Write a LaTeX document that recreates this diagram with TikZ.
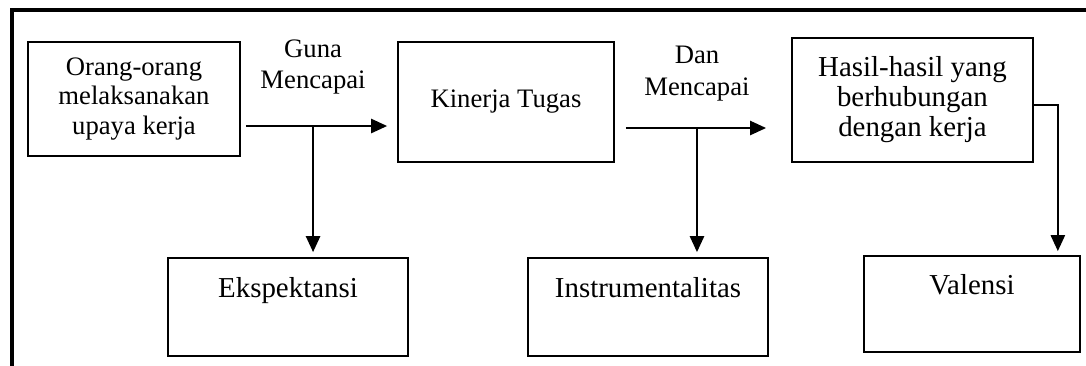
\documentclass[tikz,border=0pt]{standalone}
\usepackage{fontspec}
\setmainfont{Liberation Serif}
\usetikzlibrary{arrows.meta,positioning}

\begin{document}
\begin{tikzpicture}[
    auto,
    node distance=92pt,
    >={Triangle[length=7.2pt,width=6.3pt]},
    font=\fontsize{12}{13.2}\selectfont,
    box/.style={
		rectangle,
		draw=black,
		line width=0.75pt,
		inner sep=0pt,
		text centered,
		align=center
	},
	bigtext/.style={
		font=\fontsize{13}{13.5}\selectfont
	},
	flow/.style={
		draw,
		->,
		line width=1.1pt
	},
	lbl/.style={
		inner sep=0pt,
		align=center,
		font=\fontsize{12}{14.2}\selectfont
	}
  ]
  % page size and the outer frame
  \useasboundingbox (0,0) rectangle (488.7pt,-164.25pt);
  \begin{scope}
    \clip (0,0) rectangle (488.7pt,-164.25pt);
    \draw [line width=1.8pt] (5.25pt,-4.6pt) rectangle (540pt,-220pt);
  \end{scope}

  % We start by placing the blocks
  \node [box, minimum width=95.4pt, minimum height=51.3pt] at (60.3pt,-44.55pt) (upaya)
  {Orang-orang\\melaksanakan\\upaya kerja};

  \node [box, minimum width=97.2pt, minimum height=54pt, right of=upaya, node distance=167.4pt, yshift=-1.35pt] (kinerja)
  {Kinerja Tugas};

  \node [box, bigtext, minimum width=108.45pt, minimum height=55.8pt, right of=kinerja, node distance=182.9pt, yshift=0.9pt] (hasil)
  {Hasil-hasil yang\\berhubungan\\dengan kerja};

  \node [box, bigtext, minimum width=108pt, minimum height=44.1pt, below of=upaya, node distance=93.6pt, xshift=69.3pt] (ekspektansi)
  {Ekspektansi\\\strut};

  \node [box, bigtext, minimum width=108pt, minimum height=44.1pt, below of=kinerja, node distance=92.25pt, xshift=63.9pt] (instrumentalitas)
  {Instrumentalitas\\\strut};

  \node [box, bigtext, minimum width=97.2pt, minimum height=43.2pt, below of=hasil, node distance=91.8pt, xshift=26.8pt] (valensi)
  {Valensi\\\strut};

  % arrows
  \draw [flow, shorten <=2.25pt, shorten >=4.5pt] ([yshift=-12.15pt]upaya.east) -- coordinate[pos=0.462] (guna) ([yshift=-12.15pt]upaya.east -| kinerja.west);
  \draw [flow, shorten <=4.95pt, shorten >=11.25pt] ([yshift=-11.7pt]kinerja.east) -- coordinate[pos=0.466] (dan) ([yshift=-11.7pt]kinerja.east -| hasil.west);
  \draw [flow, shorten >=2.25pt] (guna) -- (guna |- ekspektansi.north);
  \draw [flow, shorten >=2.25pt] (dan) -- (dan |- instrumentalitas.north);
  \draw [flow, shorten >=1.8pt] ([yshift=-2.25pt]hasil.east) -| ([xshift=-10.35pt]valensi.north east);

  % labels
  \node [lbl, above=14pt of guna] (gunalbl) {Guna\\Mencapai};
  \node [lbl, above=12pt of dan] (danlbl) {Dan\\Mencapai};

\end{tikzpicture}
\end{document}
